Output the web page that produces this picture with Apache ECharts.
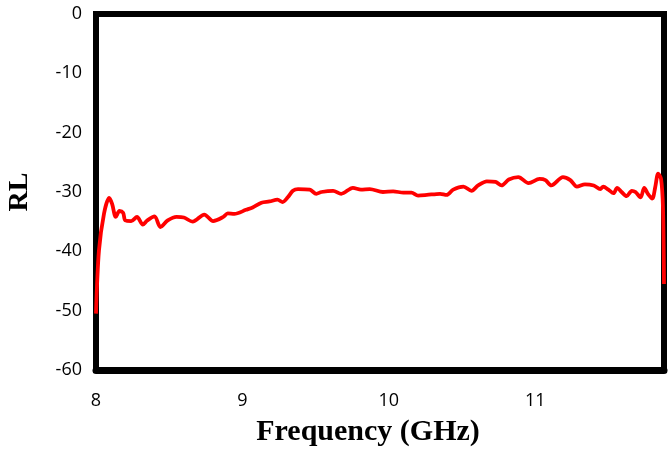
<!DOCTYPE html>
<html>
<head>
<meta charset="utf-8">
<script src="https://cdn.jsdelivr.net/npm/echarts@6/dist/echarts.min.js"></script>
<style>
  html, body { margin: 0; padding: 0; background: #fff; }
  #main { width: 668px; height: 449px; }
</style>
</head>
<body>
<div id="main"></div>
<script>
var freq = [8.0, 8.02, 8.055, 8.09, 8.11, 8.135, 8.16, 8.185, 8.2, 8.24, 8.28, 8.32, 8.35, 8.4, 8.44, 8.49, 8.55, 8.6, 8.66, 8.74, 8.8, 8.87, 8.9, 8.945, 9.025, 9.07, 9.13, 9.185, 9.24, 9.275, 9.31, 9.345, 9.38, 9.46, 9.505, 9.54, 9.62, 9.675, 9.755, 9.81, 9.87, 9.96, 10.03, 10.1, 10.155, 10.2, 10.26, 10.35, 10.395, 10.44, 10.51, 10.565, 10.61, 10.67, 10.73, 10.77, 10.82, 10.885, 10.955, 11.03, 11.07, 11.11, 11.19, 11.24, 11.285, 11.34, 11.4, 11.445, 11.465, 11.5, 11.535, 11.56, 11.59, 11.625, 11.66, 11.685, 11.72, 11.745, 11.77, 11.8, 11.82, 11.84, 11.86, 11.873, 11.88];
var rl = [-50.5, -39.9, -33.6, -31.0, -32.0, -34.2, -33.2, -33.5, -34.8, -34.9, -34.2, -35.5, -34.8, -34.1, -35.9, -34.8, -34.2, -34.3, -35.0, -33.8, -34.9, -34.2, -33.6, -33.7, -33.0, -32.6, -31.8, -31.6, -31.3, -31.7, -30.9, -29.8, -29.5, -29.6, -30.3, -30.0, -29.8, -30.3, -29.3, -29.6, -29.5, -30.0, -29.9, -30.1, -30.1, -30.6, -30.5, -30.3, -30.5, -29.6, -29.1, -29.8, -28.9, -28.2, -28.3, -28.9, -27.9, -27.5, -28.5, -27.8, -28.0, -28.9, -27.5, -28.0, -29.1, -28.7, -28.9, -29.5, -29.1, -29.6, -30.2, -29.3, -30.0, -30.7, -29.8, -30.0, -30.9, -29.3, -30.3, -31.1, -29.2, -26.9, -27.8, -32.6, -45.5];
var xTicks = [8, 9, 10, 11];
var yTicks = [0, -10, -20, -30, -40, -50, -60];

var points = [];
for (var i = 0; i < freq.length; i++) {
    points.push([freq[i], rl[i]]);
}

var chart = echarts.init(document.getElementById('main'));
var option = {
    animation: false,
    grid: {
        left: 96, right: 4, top: 14, bottom: 79,
        outerBoundsMode: 'none',
        show: true,
        borderColor: '#000',
        borderWidth: 6,
        backgroundColor: '#fff'
    },
    xAxis: {
        type: 'value',
        min: 8,
        max: 11.88,
        interval: 1,
        name: 'Frequency (GHz)',
        nameLocation: 'middle',
        nameGap: 47,
        nameTextStyle: { fontFamily: 'Liberation Serif', fontWeight: 'bold', fontSize: 30, color: '#000', padding: [0, 24, 0, 0] },
        axisLine: { show: true, onZero: false, lineStyle: { color: '#000', width: 7 } },
        axisTick: { show: false },
        splitLine: { show: false },
        axisLabel: {
            margin: 22,
            fontFamily: 'Open Sans',
            fontSize: 18,
            color: '#000',
            showMaxLabel: false,
            formatter: function (v) { return xTicks.indexOf(v) >= 0 ? String(v) : ''; }
        }
    },
    yAxis: {
        type: 'value',
        min: -60,
        max: 0,
        interval: 10,
        name: 'RL',
        nameLocation: 'middle',
        nameGap: 62,
        nameTextStyle: { fontFamily: 'Liberation Serif', fontWeight: 'bold', fontSize: 28, color: '#000' },
        axisLine: { show: false },
        axisTick: { show: false },
        splitLine: { show: false },
        axisLabel: {
            margin: 14,
            fontFamily: 'Open Sans',
            fontSize: 18,
            color: '#000',
            formatter: function (v) { return yTicks.indexOf(v) >= 0 ? String(v) : ''; }
        }
    },
    series: [{
        type: 'line',
        data: points,
        showSymbol: false,
        smooth: 0.3,
        clip: false,
        lineStyle: { color: '#ff0000', width: 3.8 }
    }]
};
chart.setOption(option);
</script>
</body>
</html>
